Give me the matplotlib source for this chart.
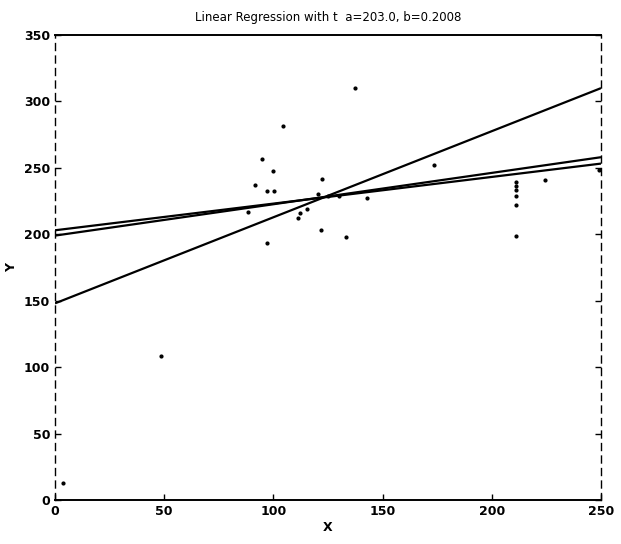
import numpy as np
import matplotlib
matplotlib.use("Agg")
import matplotlib.pyplot as plt

# observed samples
x_obs = [137.4, 104.4, 94.6, 99.7, 91.4, 97.2, 100.3, 88.5, 97.2, 115.2,
         112.3, 111.4, 122.4, 120.3, 173.5, 142.7, 121.6, 133.2, 224.5,
         48.4, 3.8, 125.0, 130.0, 249.0,
         211.0, 211.0, 211.0, 211.0, 211.0, 211.0]
y_obs = [310.0, 281.5, 257.0, 247.6, 236.9, 232.8, 232.8, 216.8, 193.7, 219.3,
         216.3, 212.3, 241.4, 230.5, 251.9, 227.0, 203.2, 198.0, 241.0,
         108.6, 12.6, 229.0, 229.0, 248.0,
         239.0, 236.0, 233.0, 229.0, 222.0, 199.0]

# fitted lines: (intercept, slope)
fit_intercepts = [148.0, 203.0, 199.0]
fit_slopes = [0.648, 0.2008, 0.236]

x_ticks = [0, 50, 100, 150, 200, 250]
y_ticks = [0, 50, 100, 150, 200, 250, 300, 350]

fig = plt.figure(figsize=(6.21, 5.44), dpi=100)
ax = fig.add_axes([0.0886, 0.0809, 0.8792, 0.8548])

xx = np.array([0.0, 250.0])
for a, b in zip(fit_intercepts, fit_slopes):
    ax.plot(xx, a + b * xx, color="black", lw=1.6, solid_capstyle="butt")

ax.plot(x_obs, y_obs, ".", color="black", markersize=4)

ax.set_xlim(0, 250)
ax.set_ylim(0, 350)
ax.set_xticks(x_ticks)
ax.set_yticks(y_ticks)
ax.tick_params(direction="in", length=4, width=1, labelsize=9,
               right=True, top=False)
for lab in ax.get_xticklabels() + ax.get_yticklabels():
    lab.set_fontweight("bold")

ax.spines["top"].set_linewidth(1.4)
ax.spines["bottom"].set_linewidth(1.4)
for side in ("left", "right"):
    ax.spines[side].set_linewidth(1.0)
    ax.spines[side].set_linestyle((0, (5, 4)))

ax.set_title("Linear Regression with t  a=203.0, b=0.2008", fontsize=8.5, pad=10)
ax.set_xlabel("X", fontsize=9, fontweight="bold", labelpad=2)
ax.set_ylabel("Y", fontsize=9, fontweight="bold", labelpad=4)

fig.savefig("out.png", dpi=100)
